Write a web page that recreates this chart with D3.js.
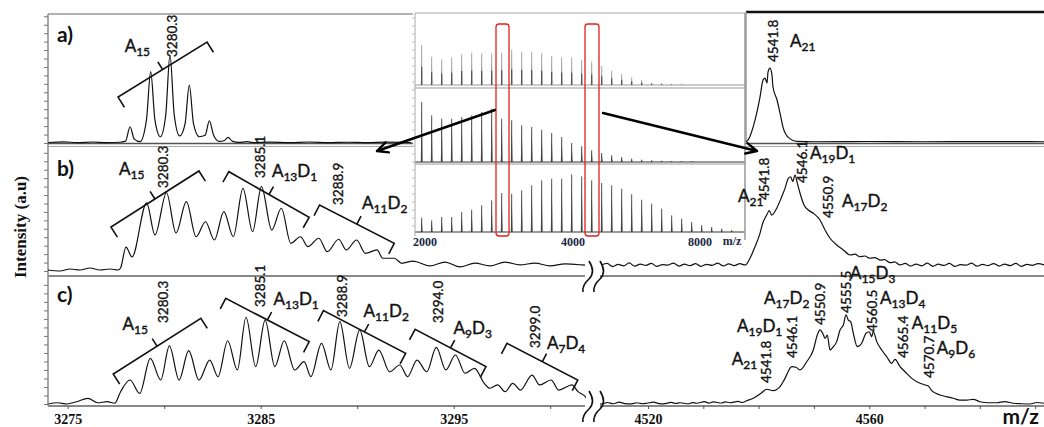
<!DOCTYPE html>
<meta charset="utf-8">
<script src="https://d3js.org/d3.v7.min.js"></script>
<style>
  body { margin: 0; background: #fff; }
  .trace { fill: none; stroke: #111; stroke-width: 1.2; stroke-linejoin: round; }
  .num { font-family: Lato, sans-serif; font-size: 13.5px; fill: #111; stroke: #111; stroke-width: 0.35; }
  .sp { font-family: Lato, sans-serif; font-size: 17px; fill: #111; stroke: #111; stroke-width: 0.4; }
  .bracket { fill: none; stroke: #111; stroke-width: 1.6; }
</style>
<div id="chart"></div>
<script>
// ---- data ----
var tickLeft = [3275, 3285, 3295];
var tickRight = [4520, 4560];
var insetTicks = [2000, 4000, 8000];

// a) left, m/z vs relative intensity
var spectrumA = [[3274.0,0.4],[3274.8,0.9],[3275.5,0.3],[3276.3,0.8],[3277.0,0.3],[3277.7,0.6],[3278.0,1.5],[3278.23,12.7],[3278.45,3],[3278.75,1.0],[3279.08,18],[3279.30,55.7],[3279.52,18],[3279.80,4.9],[3280.08,22],[3280.30,68.8],[3280.52,22],[3280.80,5.5],[3281.08,15],[3281.30,45.3],[3281.52,15],[3281.82,4.9],[3282.12,6],[3282.34,17.4],[3282.56,6],[3282.85,1.2],[3283.12,2],[3283.32,4.4],[3283.52,1.5],[3283.85,0.5],[3284.3,1.0],[3284.6,0.3],[3285.5,0.7],[3286.5,0.3],[3287.5,0.8],[3288.5,0.3],[3289.5,0.6],[3290.5,0.3],[3291.5,0.7],[3292.8,0.4]];
// a) right
var spectrumAR = [[4537.6,0],[4538.08,1.5],[4539.35,16.9],[4540.25,34.6],[4540.80,47.7],[4541.16,49.2],[4541.52,45.4],[4541.70,53.8],[4542.06,56.9],[4542.42,51.5],[4542.60,42.3],[4543.33,32.3],[4543.87,22.3],[4544.41,11.5],[4545.32,3.8],[4546.94,0.5],[4550,0.2],[4560,0.4],[4570,0.2],[4580,0.3],[4592,0.2]];
// b) left
var spectrumB = [[3273.98,0.8],[3274.60,0],[3275.12,1.6],[3275.64,0.8],[3276.15,2.4],[3276.67,0.8],[3277.19,1.6],[3277.61,0.8],[3277.74,2.4],[3278.02,19.0],[3278.33,11.1],[3279.09,54.0],[3279.52,28.6],[3280.12,62.1],[3280.61,30.2],[3281.15,55.0],[3281.65,27.2],[3282.14,39.1],[3282.60,24.6],[3283.09,47.1],[3283.58,27.2],[3284.08,65.6],[3284.58,31.2],[3285.04,66.9],[3285.57,32.5],[3286.07,49.8],[3286.56,22.0],[3287.06,27.2],[3287.45,19.3],[3288.01,26.0],[3288.45,15.3],[3289.04,25.2],[3289.43,16.7],[3289.97,24.6],[3290.43,14.0],[3291.03,16.7],[3291.32,10.1],[3291.92,10.1],[3292.31,6.1],[3292.89,7.9],[3293.77,4.0],[3294.55,7.1],[3295.33,3.2],[3296.10,6.3],[3296.88,4.0],[3297.66,7.1],[3298.43,4.8],[3299.21,6.3],[3299.99,4.0],[3300.77,5.6],[3301.65,4.8],[3302.2,4.0]];
// b) right
var spectrumBR = [[4511.6,4.8],[4512.6,6.0],[4513.6,3.5],[4514.6,5.2],[4515.6,4.1],[4516.6,6.4],[4517.6,3.8],[4518.6,5.5],[4519.6,4.4],[4520.6,6.1],[4521.6,3.6],[4522.6,5.0],[4523.6,4.7],[4524.6,6.3],[4525.6,3.9],[4526.6,5.4],[4527.6,4.2],[4528.6,5.9],[4529.6,3.7],[4530.6,5.3],[4531.6,4.5],[4532.6,6.2],[4533.6,4.0],[4534.6,5.6],[4535.6,4.3],[4536.6,5.8],[4537.6,4.8],[4538.44,10.1],[4539.35,19.3],[4540.25,29.9],[4540.74,37.9],[4541.46,44.4],[4541.93,47.9],[4542.37,44.4],[4543.27,49.8],[4544.18,59.0],[4544.77,65.6],[4545.37,73.6],[4545.80,74.8],[4546.17,70.9],[4546.58,76.2],[4547.00,69.6],[4547.49,61.7],[4548.21,52.4],[4548.99,48.4],[4549.89,45.8],[4551.10,40.5],[4552.01,32.5],[4552.91,26.0],[4554.12,20.6],[4555.32,16.7],[4556.53,12.7],[4557.4,13.4],[4558.34,11.3],[4559.2,11.9],[4560.14,10.1],[4561.0,10.6],[4561.95,8.7],[4562.8,9.0],[4563.76,6.6],[4564.6,7.2],[4565.57,4.8],[4566.5,6.0],[4567.5,3.9],[4568.5,5.5],[4569.5,4.1],[4570.5,6.2],[4571.5,3.7],[4572.5,5.4],[4573.5,4.4],[4574.5,6.0],[4575.5,3.6],[4576.5,5.1],[4577.5,4.6],[4578.5,6.2],[4579.5,3.8],[4580.5,5.3],[4581.5,4.3],[4582.5,5.9],[4583.5,3.9],[4584.5,5.5],[4585.5,4.2],[4586.5,6.0],[4587.5,3.7],[4588.5,5.2],[4589.5,4.5],[4590.5,5.8],[4591.6,4.8]];
// c) left
var spectrumC = [[3274.0,0],[3274.47,1.0],[3274.96,0],[3275.46,1.8],[3276.05,4.5],[3276.55,1.0],[3277.05,1.8],[3277.44,0.6],[3277.74,9.7],[3278.23,18.9],[3278.73,8.4],[3279.28,36.0],[3279.82,18.9],[3280.27,45.7],[3280.77,18.9],[3281.27,42.0],[3281.80,18.9],[3282.36,34.6],[3282.79,21.5],[3283.29,49.8],[3283.79,26.8],[3284.24,68.3],[3284.74,29.4],[3285.23,66.1],[3285.73,29.4],[3286.22,49.8],[3286.76,26.8],[3287.25,33.3],[3287.60,21.5],[3288.15,47.8],[3288.64,26.8],[3289.10,64.8],[3289.60,28.1],[3290.13,58.3],[3290.63,29.4],[3291.12,42.5],[3291.68,25.4],[3292.21,30.7],[3292.61,21.5],[3293.10,34.6],[3293.60,25.4],[3294.10,44.6],[3294.59,26.8],[3295.09,38.6],[3295.59,24.2],[3296.08,28.1],[3296.58,16.3],[3296.88,12.4],[3297.27,15.0],[3297.67,9.7],[3298.06,16.3],[3298.46,11.0],[3299.06,22.8],[3299.45,15.0],[3300.05,18.9],[3300.44,11.0],[3301.13,15.0],[3301.44,9.7],[3301.83,5.7],[3302.0,2.0]];
// c) right
var spectrumCR = [[4510.5,0.3],[4511.6,0],[4512.7,1.2],[4513.7,0.2],[4514.8,1.4],[4515.8,0.3],[4516.8,0.1],[4518.0,1.0],[4519.0,0.2],[4519.8,0.6],[4521.0,1.5],[4522.0,0.3],[4522.8,0.1],[4524.2,1.3],[4525.0,0.4],[4525.8,1.0],[4527.3,0.2],[4528.0,1.1],[4528.8,0.6],[4530.2,1.8],[4531.0,0.7],[4531.8,1.6],[4533.3,0.8],[4534.0,1.7],[4534.8,1.0],[4536.3,2.0],[4537.0,1.2],[4537.85,2.6],[4539.04,4.5],[4540.56,8.9],[4541.46,11.6],[4542.66,10.5],[4543.87,13.6],[4544.77,20.2],[4545.99,29.4],[4546.76,28.9],[4547.49,26.8],[4548.70,33.3],[4549.89,42.5],[4550.61,54.3],[4551.10,58.3],[4551.59,55.7],[4552.01,51.7],[4552.42,54.3],[4552.91,42.5],[4553.51,45.1],[4554.12,49.1],[4554.72,58.3],[4555.32,62.2],[4555.80,70.1],[4556.22,66.1],[4556.65,64.8],[4557.12,55.7],[4557.85,45.1],[4558.64,47.8],[4559.42,55.7],[4560.02,56.9],[4560.45,53.0],[4560.74,56.9],[4561.36,49.1],[4562.26,42.5],[4563.16,37.2],[4564.07,32.0],[4564.67,35.2],[4565.57,29.4],[4566.47,25.4],[4567.69,20.2],[4569.19,16.3],[4570.09,15.0],[4570.69,14.2],[4571.30,10.5],[4572.80,7.1],[4573.9,5.8],[4575.21,4.5],[4576.4,3.0],[4577.63,3.1],[4578.8,3.6],[4580.04,1.8],[4581.5,1.0],[4583.06,1.0],[4584.5,1.9],[4586.06,0.6],[4587.5,0.2],[4589.08,0],[4590.3,1.2],[4591.6,0.6]];

// inset: peak heights of the three overview spectra
var insetTop = [40,28.3,25.7,27.7,31,32.3,31.7,31.7,32.3,35,33.3,33.3,31.7,29,27.7,27.7,25,23.3,19,14.3,11,7.7,5,2.3,1.7,1,0.7];
var insetMid = [60,46.7,43.3,43.3,45,46.7,50,53.3,43.3,41.7,36.7,35,32.3,29,25,19,15.7,11.7,9,6.7,5,3.3,2.3,1.7,1.2,1,0.8,0.6];
var insetBot = [14.3,11.7,15,15,20,22.3,26.7,31.7,39,38.3,41.7,46.7,51.7,53.3,53.3,57.7,55.7,51.7,49,46.7,43.3,37.7,32.3,28.3,23.3,16.7,13.3,10,6.7,5,3.3,1.7];

// peak annotations (m/z text, anchored at m/z and intensity)
var numsA  = [{t:"3280.3", m:3280.64, i:67.2}];
var numsAR = [{t:"4541.8", m:4543.42, i:61.5}];
var numsB  = [{t:"3280.3", m:3280.22, i:65.9}, {t:"3285.1", m:3285.20, i:73.8}, {t:"3288.9", m:3289.29, i:52.4}];
var numsBR = [{t:"4541.8", m:4541.79, i:56.3}, {t:"4546.1", m:4548.66, i:69.8}, {t:"4550.9", m:4553.54, i:42.1}];
var numsC  = [{t:"3280.3", m:3280.20, i:63.8}, {t:"3285.1", m:3285.20, i:76.4}, {t:"3288.9", m:3289.47, i:68.5}, {t:"3294.0", m:3294.47, i:63.8}, {t:"3299.0", m:3299.45, i:44.1}];
var numsCR = [{t:"4541.8", m:4542.15, i:16.5}, {t:"4546.1", m:4547.03, i:36.2}, {t:"4550.9", m:4551.92, i:62.2}, {t:"4555.5", m:4556.62, i:71.7}, {t:"4560.5", m:4561.32, i:56.7}, {t:"4565.4", m:4566.93, i:36.2}, {t:"4570.7", m:4571.63, i:20.5}];

// species labels
var labelsA  = [{t:"A15", m:3277.95, i:71.1}];
var labelsAR = [{t:"A21", m:4545.68, i:73.1}];
var labelsB  = [{t:"A15", m:3277.66, i:76.2}, {t:"A13D1", m:3285.58, i:74.6}, {t:"A11D2", m:3290.25, i:49.2}];
var labelsBR = [{t:"A21", m:4536.27, i:54.8}, {t:"A19D1", m:4549.29, i:88.9}, {t:"A17D2", m:4555.08, i:50.8}, {t:"A15D3", m:4556.53, i:-6.3}];
var labelsC  = [{t:"A15", m:3277.84, i:58.3}, {t:"A13D1", m:3285.66, i:78.0}, {t:"A11D2", m:3290.33, i:68.5}, {t:"A9D3", m:3294.99, i:55.1}, {t:"A7D4", m:3299.83, i:43.3}];
var labelsCR = [{t:"A21", m:4535.14, i:30.7}, {t:"A19D1", m:4536.09, i:56.7}, {t:"A17D2", m:4540.98, i:78.7}, {t:"A13D4", m:4561.95, i:78.7}, {t:"A11D5", m:4567.69, i:59.1}, {t:"A9D6", m:4572.21, i:39.4}];

// isotope-cluster brackets [m1, i1, m2, i2]
var bracketsA = [[3277.61,35.9,3282.22,78.9]];
var bracketsB = [[3277.24,34.9,3281.80,79.4],[3283.35,78.8,3287.51,42.6],[3288.05,52.4,3291.92,22.0]];
var bracketsC = [[3277.36,23.6,3281.90,67.5],[3283.19,83.2,3287.51,49.1],[3288.25,73.5,3292.51,39.9],[3293.00,58.8,3296.67,29.4],[3297.76,47.8,3301.43,18.9]];

// ---- drawing ----
var W = 1044, H = 427;
var svg = d3.select("#chart").append("svg")
    .attr("width", W).attr("height", H);

var xL = d3.scaleLinear().domain([3274, 3302]).range([48.4, 588.8]);
var xR = d3.scaleLinear().domain([4510, 4592]).range([592.7, 1046.2]);
var yA  = d3.scaleLinear().domain([0, 100]).range([143, 15]);
var yAR = d3.scaleLinear().domain([0, 100]).range([142, 12]);
var yB  = d3.scaleLinear().domain([0, 100]).range([271, 145]);
var yC  = d3.scaleLinear().domain([0, 100]).range([404, 277]);

var defs = svg.append("defs");
function clip(id, r) {
  defs.append("clipPath").attr("id", id).append("rect")
    .attr("x", r[0]).attr("y", r[1]).attr("width", r[2]).attr("height", r[3]);
  return "url(#" + id + ")";
}

var panels = [
  {x: xL, y: yA,  c: clip("cA",  [48, 14, 365, 130]),  s: spectrumA,  n: numsA,  l: labelsA,  b: bracketsA},
  {x: xR, y: yAR, c: clip("cAR", [746, 12, 298, 132]), s: spectrumAR, n: numsAR, l: labelsAR, b: []},
  {x: xL, y: yB,  c: clip("cB",  [48, 146, 537, 130]), s: spectrumB,  n: numsB,  l: labelsB,  b: bracketsB},
  {x: xR, y: yB,  c: clip("cBR", [600, 146, 444, 130]), s: spectrumBR, n: numsBR, l: labelsBR, b: []},
  {x: xL, y: yC,  c: clip("cC",  [48, 277, 538, 129]), s: spectrumC,  n: numsC,  l: labelsC,  b: bracketsC},
  {x: xR, y: yC,  c: clip("cCR", [600, 277, 444, 129]), s: spectrumCR, n: numsCR, l: labelsCR, b: []}
];

// frames
function hline(x1, x2, y, col, w) {
  svg.append("line").attr("x1", x1).attr("x2", x2).attr("y1", y).attr("y2", y)
    .attr("stroke", col).attr("stroke-width", w);
}
function vline(x, y1, y2, col, w) {
  svg.append("line").attr("x1", x).attr("x2", x).attr("y1", y1).attr("y2", y2)
    .attr("stroke", col).attr("stroke-width", w);
}
hline(48, 413, 14, "#999", 1.5);
vline(48, 14, 406, "#888", 1.5);
hline(746, 1044, 12, "#111", 2.5);
vline(746, 12, 144, "#999", 1.5);
hline(48, 1044, 143.5, "#555", 1.6);
hline(48, 1044, 146.5, "#aaa", 1);
hline(48, 585, 276, "#888", 2);
hline(600, 1044, 276, "#888", 2);
hline(48, 585, 406, "#888", 2);
hline(600, 1044, 406, "#888", 2);

// left intensity ticks
[[yA, 6.6], [yB, 6.7], [yC, 6.7]].forEach(function(t) {
  var g = svg.append("g").attr("transform", "translate(48,0)")
    .call(d3.axisLeft(t[0]).tickValues(d3.range(0, 100, t[1])).tickSize(4).tickFormat(""));
  g.select(".domain").remove();
  g.selectAll("line").attr("stroke", "#777");
});

// bottom axes
var axL = svg.append("g").attr("transform", "translate(0,406)")
  .call(d3.axisBottom(xL).tickValues([3275, 3280, 3285, 3290, 3295, 3300]).tickSize(3).tickPadding(5)
    .tickFormat(function(d) { return tickLeft.indexOf(d) >= 0 ? d : ""; }));
var axR = svg.append("g").attr("transform", "translate(0,406)")
  .call(d3.axisBottom(xR).tickValues([4520, 4530, 4540, 4550, 4560, 4570, 4580, 4590]).tickSize(3).tickPadding(5)
    .tickFormat(function(d) { return tickRight.indexOf(d) >= 0 ? d : ""; }));
[axL, axR].forEach(function(g) {
  g.select(".domain").remove();
  g.selectAll("line").attr("stroke", "#555");
  g.selectAll("text").attr("font-family", "'Liberation Serif', serif").attr("font-weight", "bold")
    .attr("font-size", 14).attr("fill", "#111");
});

// traces
panels.forEach(function(p) {
  var line = d3.line().x(function(d) { return p.x(d[0]); }).y(function(d) { return p.y(d[1]); })
    .curve(d3.curveMonotoneX);
  svg.append("path").attr("class", "trace").attr("clip-path", p.c).attr("d", line(p.s));
});

// axis breaks
[276, 406].forEach(function(y) {
  [588, 599].forEach(function(x) {
    svg.append("path").attr("fill", "none").attr("stroke", "#111").attr("stroke-width", 1.6)
      .attr("d", "M" + (x + 1) + "," + (y - 15) + "Q" + (x + 8) + "," + (y - 4) + " " + (x + 1) + "," + (y + 3) +
        "Q" + (x - 6) + "," + (y + 9) + " " + (x - 5) + "," + (y + 16));
  });
});

// ---- inset overview ----
var inset = svg.append("g");
inset.append("rect").attr("x", 413).attr("y", 13).attr("width", 332).attr("height", 233).attr("fill", "#fff");
var xI = d3.scaleLinear().domain([0, 31]).range([421.7, 731.7]);
var xIt = d3.scaleLinear().domain(insetTicks).range([425, 573, 700]);
var subs = [
  {d: insetTop, y: d3.scaleLinear().domain([0, 70]).range([85, 15]), col: "#a0a0a0"},
  {d: insetMid, y: d3.scaleLinear().domain([0, 70]).range([162, 92]), col: "#444"},
  {d: insetBot, y: d3.scaleLinear().domain([0, 70]).range([232, 162]), col: "#444"}
];
subs.forEach(function(s, k) {
  inset.append("line").attr("x1", 415).attr("x2", 745).attr("y1", s.y(0)).attr("y2", s.y(0))
    .attr("stroke", k === 0 ? "#999" : "#333").attr("stroke-width", 1);
  s.d.forEach(function(v, i) {
    var x = xI(i);
    inset.append("path").attr("fill", s.col)
      .attr("d", "M" + (x - 0.9) + "," + s.y(0) + "L" + x + "," + s.y(v) + "L" + (x + 0.9) + "," + s.y(0) + "Z");
    inset.append("line").attr("x1", x).attr("x2", x).attr("y1", s.y(0)).attr("y2", s.y(v))
      .attr("stroke", s.col).attr("stroke-width", 0.9);
    if (k === 0) {
      inset.append("line").attr("x1", x).attr("x2", x).attr("y1", s.y(0)).attr("y2", s.y(v * 0.45))
        .attr("stroke", "#444").attr("stroke-width", 1);
    }
  });
});
inset.append("line").attr("x1", 415).attr("x2", 745).attr("y1", 13).attr("y2", 13).attr("stroke", "#aaa");
inset.append("line").attr("x1", 415).attr("x2", 745).attr("y1", 88).attr("y2", 88).attr("stroke", "#999");
inset.append("line").attr("x1", 415).attr("x2", 745).attr("y1", 164).attr("y2", 164).attr("stroke", "#999");
inset.append("line").attr("x1", 415).attr("x2", 415).attr("y1", 13).attr("y2", 236).attr("stroke", "#aaa");
inset.append("line").attr("x1", 745).attr("x2", 745).attr("y1", 13).attr("y2", 240).attr("stroke", "#999").attr("stroke-width", 1.5);
d3.range(18, 234, 8).forEach(function(y) {
  inset.append("line").attr("x1", 412).attr("x2", 415).attr("y1", y).attr("y2", y).attr("stroke", "#bbb");
});
insetTicks.forEach(function(v) {
  inset.append("text").attr("x", xIt(v)).attr("y", 246).attr("text-anchor", "middle").text(v)
    .attr("font-family", "'Liberation Serif', serif").attr("font-weight", "bold").attr("font-size", 12).attr("fill", "#1c2744");
});
inset.append("text").attr("x", 732).attr("y", 245).attr("text-anchor", "middle").text("m/z")
  .attr("font-family", "'Liberation Serif', serif").attr("font-weight", "bold").attr("font-size", 12).attr("fill", "#1c2744");
[[496, 509], [585, 599]].forEach(function(r) {
  inset.append("rect").attr("x", r[0]).attr("y", 24).attr("width", r[1] - r[0]).attr("height", 212)
    .attr("rx", 3).attr("fill", "none").attr("stroke", "#e3201b").attr("stroke-width", 1.3);
});

// annotations
function bracket(p1, p2, hook, notch) {
  var dx = p2[0] - p1[0], dy = p2[1] - p1[1], len = Math.hypot(dx, dy);
  var nx = -dy / len, ny = dx / len;
  var mx = (p1[0] + p2[0]) / 2, my = (p1[1] + p2[1]) / 2;
  return "M" + (p1[0] + nx * hook) + "," + (p1[1] + ny * hook) +
    "L" + p1[0] + "," + p1[1] + "L" + p2[0] + "," + p2[1] +
    "L" + (p2[0] + nx * hook) + "," + (p2[1] + ny * hook) +
    "M" + mx + "," + my + "L" + (mx - nx * notch) + "," + (my - ny * notch);
}
function species(x, y, name) {
  var t = svg.append("text").attr("class", "sp").attr("x", x).attr("y", y);
  var sub = false;
  name.replace(/([A-Z])(\d+)/g, function(_, l, n) {
    t.append("tspan").text(l).attr("dy", sub ? -4 : 0);
    t.append("tspan").text(n).attr("font-size", 12).attr("dy", 4);
    sub = true;
  });
}
panels.forEach(function(p) {
  p.b.forEach(function(b) {
    svg.append("path").attr("class", "bracket")
      .attr("d", bracket([p.x(b[0]), p.y(b[1])], [p.x(b[2]), p.y(b[3])], 12, 9));
  });
  p.n.forEach(function(d) {
    svg.append("text").attr("class", "num")
      .attr("transform", "translate(" + p.x(d.m) + "," + p.y(d.i) + ") rotate(-90)")
      .text(d.t);
  });
  p.l.forEach(function(d) { species(p.x(d.m), p.y(d.i), d.t); });
});

// panel letters
[["a)", 42], ["b)", 176], ["c)", 302]].forEach(function(d) {
  svg.append("text").attr("x", 57).attr("y", d[1]).text(d[0])
    .attr("font-family", "Lato, sans-serif").attr("font-weight", "bold").attr("font-size", 21).attr("fill", "#111");
});

// y label
svg.append("text").attr("transform", "translate(26,227) rotate(-90)").attr("text-anchor", "middle")
  .attr("font-family", "'Liberation Serif', serif").attr("font-weight", "bold").attr("font-size", 17)
  .attr("fill", "#111").text("Intensity (a.u)");

// m/z
svg.append("text").attr("x", 1039).attr("y", 424).attr("text-anchor", "end").text("m/z")
  .attr("font-family", "Lato, sans-serif").attr("font-weight", "bold").attr("font-size", 21).attr("fill", "#111");

// arrows from the inset
function arrow(x1, y1, x2, y2) {
  var a = Math.atan2(y2 - y1, x2 - x1), L = 12, s = 0.45;
  svg.append("path").attr("fill", "none").attr("stroke", "#000").attr("stroke-width", 2.4)
    .attr("stroke-linecap", "round").attr("stroke-linejoin", "round")
    .attr("d", "M" + x1 + "," + y1 + "L" + x2 + "," + y2 +
      "M" + (x2 - L * Math.cos(a - s)) + "," + (y2 - L * Math.sin(a - s)) + "L" + x2 + "," + y2 +
      "L" + (x2 - L * Math.cos(a + s)) + "," + (y2 - L * Math.sin(a + s)));
}
arrow(495, 110, 377, 151);
arrow(603, 113, 757, 151);
</script>
